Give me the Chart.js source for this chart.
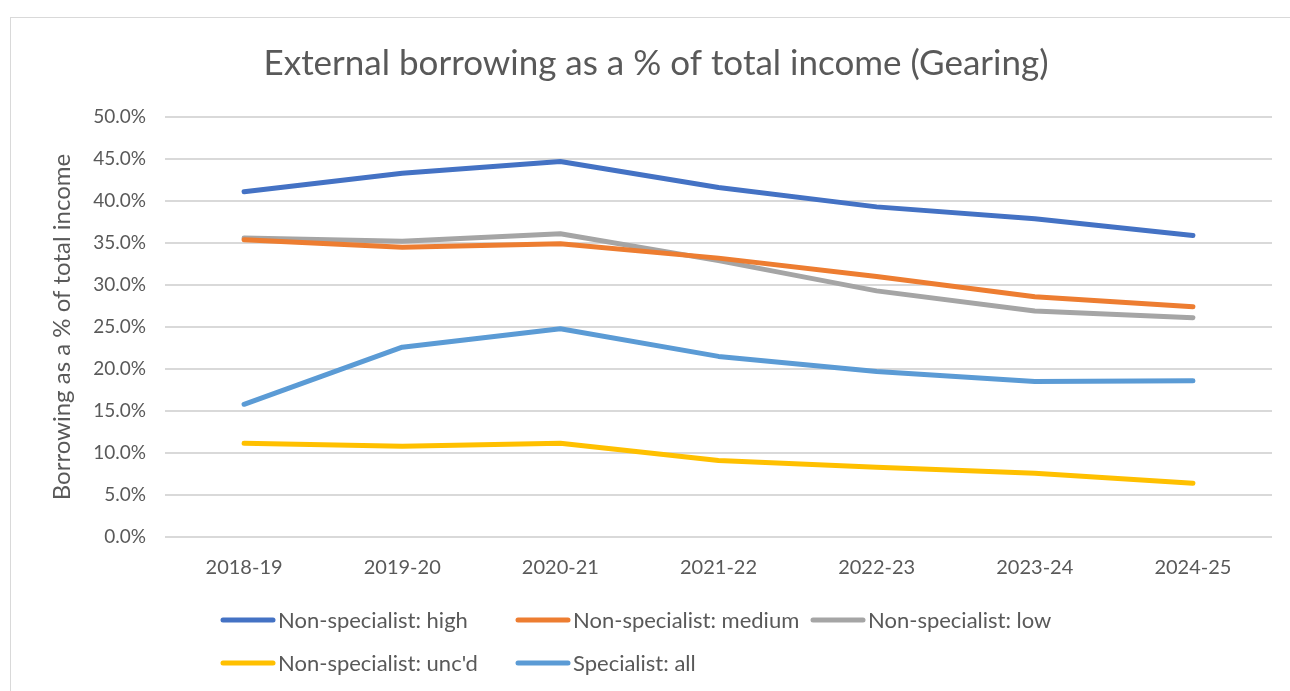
<!DOCTYPE html>
<html>
<head>
<meta charset="utf-8">
<script src="https://cdn.jsdelivr.net/npm/chart.js@4.4.1/dist/chart.umd.min.js"></script>
<style>
  html, body { margin: 0; padding: 0; background: #ffffff; overflow: hidden; }
  #frame { position: absolute; left: 10px; top: 17px; width: 1300px; height: 700px; border: 1px solid #d9d9d9; box-sizing: border-box; }
  #wrap { position: absolute; left: 0; top: 0; width: 1290px; height: 691px; }
</style>
</head>
<body>
<div id="frame"></div>
<div id="wrap"><canvas id="c" width="1290" height="691"></canvas></div>
<script>
const categories = ["2018-19", "2019-20", "2020-21", "2021-22", "2022-23", "2023-24", "2024-25"];
const seriesNames = ["Non-specialist: high", "Non-specialist: medium", "Non-specialist: low", "Non-specialist: unc'd", "Specialist: all"];
const nonSpecialistHigh   = [41.1, 43.3, 44.7, 41.6, 39.3, 37.9, 35.9];
const nonSpecialistMedium = [35.4, 34.5, 34.9, 33.2, 31.0, 28.6, 27.4];
const nonSpecialistLow    = [35.6, 35.2, 36.1, 32.9, 29.3, 26.9, 26.1];
const nonSpecialistUncd   = [11.15, 10.8, 11.15, 9.1, 8.3, 7.6, 6.4];
const specialistAll       = [15.8, 22.6, 24.8, 21.5, 19.7, 18.5, 18.6];
const yTicks = [0, 5, 10, 15, 20, 25, 30, 35, 40, 45, 50];
const colors = ["#4472C4", "#ED7D31", "#A5A5A5", "#FFC000", "#5B9BD5"];

const FONT = "Lato, 'Open Sans', 'Liberation Sans', sans-serif";
const TXT = "#595959";

const seriesValues = [nonSpecialistHigh, nonSpecialistMedium, nonSpecialistLow, nonSpecialistUncd, specialistAll];
const datasets = seriesValues.map((vals, i) => ({
  label: seriesNames[i],
  data: vals,
  borderColor: colors[i],
  backgroundColor: colors[i],
  borderWidth: 5,
  pointRadius: 0,
  tension: 0,
  borderCapStyle: 'round',
  borderJoinStyle: 'round',
  fill: false
}));

// Excel-style grid legend + title drawn on canvas
const legendPos = [[220, 620], [515, 620], [810, 620], [220, 663], [515, 663]];
const decorPlugin = {
  id: 'decor',
  afterDraw(chart) {
    const ctx = chart.ctx;
    ctx.save();
    ctx.fillStyle = TXT;
    ctx.font = "35px " + FONT;
    ctx.textAlign = 'center';
    ctx.textBaseline = 'middle';
    ctx.fillText("External borrowing as a % of total income (Gearing)", 656, 64);
    ctx.font = "22px " + FONT;
    ctx.textAlign = 'left';
    chart.data.datasets.forEach((ds, i) => {
      const [x, y] = legendPos[i];
      ctx.strokeStyle = ds.borderColor;
      ctx.lineWidth = 5;
      ctx.lineCap = 'round';
      ctx.beginPath();
      ctx.moveTo(x + 3, y);
      ctx.lineTo(x + 53, y);
      ctx.stroke();
      ctx.fillStyle = TXT;
      ctx.fillText(ds.label, x + 58, y + 1);
    });
    ctx.restore();
  }
};

new Chart(document.getElementById('c'), {
  type: 'line',
  data: { labels: categories, datasets },
  plugins: [decorPlugin],
  options: {
    responsive: false,
    animation: false,
    layout: { padding: { left: 48, right: 18, top: 117, bottom: 0 } },
    plugins: { legend: { display: false }, title: { display: false }, tooltip: { enabled: false } },
    scales: {
      x: {
        type: 'category',
        offset: true,
        grid: { display: false, drawTicks: false },
        border: { display: false },
        ticks: { color: TXT, font: { family: FONT, size: 20 }, padding: 19, maxRotation: 0 },
        afterFit(s) { s.height = 154; }
      },
      y: {
        min: 0, max: 50,
        afterBuildTicks(s) { s.ticks = yTicks.map(v => ({ value: v })); },
        grid: { color: '#d9d9d9', lineWidth: 2, drawTicks: false },
        border: { display: false },
        ticks: { color: TXT, font: { family: FONT, size: 19 }, padding: 19, callback: v => Number(v).toFixed(1) + '%' },
        title: { display: true, text: 'Borrowing as a % of total income', color: TXT, font: { family: FONT, size: 24 }, padding: 0 },
        afterFit(s) { s.width = 117; }
      }
    }
  }
});
</script>
</body>
</html>
